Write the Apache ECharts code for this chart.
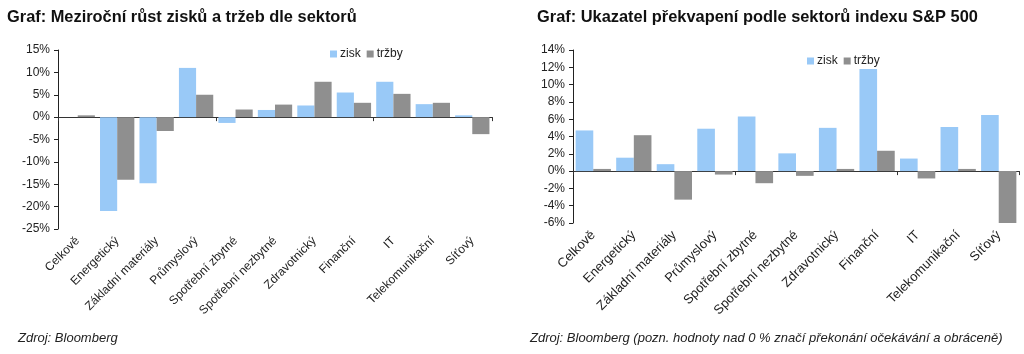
<!DOCTYPE html>
<html>
<head>
<meta charset="utf-8">
<script src="https://cdn.jsdelivr.net/npm/echarts@6/dist/echarts.min.js"></script>
<style>
  html, body { margin: 0; padding: 0; background: #fff; }
  #chart { width: 1024px; height: 354px; }
</style>
</head>
<body>
<div id="chart"></div>
<script>
// Sektory (shodne pro oba grafy)
const sectors = ['Celkově', 'Energetický', 'Základní materiály', 'Průmyslový', 'Spotřební zbytné',
  'Spotřební nezbytné', 'Zdravotnický', 'Finanční', 'IT', 'Telekomunikační', 'Síťový'];

// Levy graf - mezirocni rust (%)
const growthProfit = [0, -21.0, -14.8, 11.0, -1.3, 1.6, 2.6, 5.5, 7.9, 2.9, 0.4];
const growthRevenue = [0.4, -14.0, -3.1, 5.0, 1.7, 2.8, 7.9, 3.2, 5.2, 3.2, -3.8];

// Pravy graf - ukazatel prekvapeni (%)
const surpriseProfit = [4.7, 1.55, 0.8, 4.9, 6.3, 2.05, 5.0, 11.8, 1.45, 5.1, 6.5];
const surpriseRevenue = [0.25, 4.15, -3.3, -0.4, -1.4, -0.55, 0.25, 2.35, -0.85, 0.25, -6.2];

const FONT = 'Liberation Sans, Arial, sans-serif';
const BLUE = '#99c9f7';
const GREY = '#8f8f8f';

function barAxis(gridIndex) {
    return {
        type: 'category',
        gridIndex: gridIndex,
        data: sectors,
        axisLine: { onZero: true, lineStyle: { color: '#333', width: 1 } },
        axisTick: { show: true, length: 4, lineStyle: { color: '#333' } },
        axisLabel: { show: false },
        splitLine: { show: false }
    };
}

function labelAxis(gridIndex, size) {
    return {
        type: 'category',
        gridIndex: gridIndex,
        position: 'bottom',
        data: sectors,
        axisLine: { show: false, onZero: false },
        axisTick: { show: false },
        axisLabel: {
            interval: 0,
            rotate: 45,
            margin: 10,
            fontSize: size,
            fontFamily: FONT,
            color: '#222'
        }
    };
}

function valueAxis(gridIndex, min, max, interval) {
    return {
        type: 'value',
        gridIndex: gridIndex,
        min: min,
        max: max,
        interval: interval,
        axisLine: { show: true, lineStyle: { color: '#222' } },
        axisTick: { show: true, length: 4, lineStyle: { color: '#222' } },
        splitLine: { show: false },
        axisLabel: {
            formatter: '{value}%',
            fontSize: 12,
            fontFamily: FONT,
            color: '#222',
            margin: 8
        }
    };
}

function barSeries(name, data, color, axisIndex) {
    return {
        name: name,
        type: 'bar',
        xAxisIndex: axisIndex,
        yAxisIndex: axisIndex / 2,
        data: data,
        barGap: '0%',
        barCategoryGap: '13%',
        itemStyle: { color: color },
        emphasis: { disabled: true }
    };
}

const option = {
    backgroundColor: '#fff',
    animation: false,
    textStyle: { fontFamily: FONT },
    title: [
        {
            text: 'Graf: Meziroční růst zisků a tržeb dle sektorů',
            left: 2, top: 4,
            textStyle: { fontSize: 16.4, fontWeight: 'bold', color: '#111', fontFamily: FONT }
        },
        {
            text: 'Graf: Ukazatel překvapení podle sektorů indexu S&P 500',
            left: 532, top: 4,
            textStyle: { fontSize: 16.4, fontWeight: 'bold', color: '#111', fontFamily: FONT }
        },
        {
            text: 'Zdroj: Bloomberg',
            left: 13, top: 327,
            textStyle: { fontSize: 13, fontStyle: 'italic', fontWeight: 'normal', color: '#222', fontFamily: FONT }
        },
        {
            text: 'Zdroj: Bloomberg (pozn. hodnoty nad 0 % značí překonání očekávání a obráceně)',
            left: 525, top: 327,
            textStyle: { fontSize: 13, fontStyle: 'italic', fontWeight: 'normal', color: '#222', fontFamily: FONT }
        }
    ],
    legend: [
        {
            left: 325, top: 43,
            itemWidth: 7, itemHeight: 7, itemGap: 6,
            icon: 'rect',
            data: ['zisk', 'tržby'],
            textStyle: { fontSize: 12, color: '#222', fontFamily: FONT, padding: [0, 0, 0, -2] }
        },
        {
            left: 802, top: 50,
            itemWidth: 7, itemHeight: 7, itemGap: 6,
            icon: 'rect',
            data: ['zisk', 'tržby'],
            textStyle: { fontSize: 12, color: '#222', fontFamily: FONT, padding: [0, 0, 0, -2] }
        }
    ],
    grid: [
        { left: 58, top: 50, width: 434, height: 179 },
        { left: 573, top: 50, width: 446, height: 173 }
    ],
    xAxis: [barAxis(0), labelAxis(0, 12), barAxis(1), labelAxis(1, 13)],
    yAxis: [valueAxis(0, -25, 15, 5), valueAxis(1, -6, 14, 2)],
    series: [
        barSeries('zisk', growthProfit, BLUE, 0),
        barSeries('tržby', growthRevenue, GREY, 0),
        barSeries('zisk', surpriseProfit, BLUE, 2),
        barSeries('tržby', surpriseRevenue, GREY, 2)
    ]
};

const chart = echarts.init(document.getElementById('chart'));
chart.setOption(option);
</script>
</body>
</html>
